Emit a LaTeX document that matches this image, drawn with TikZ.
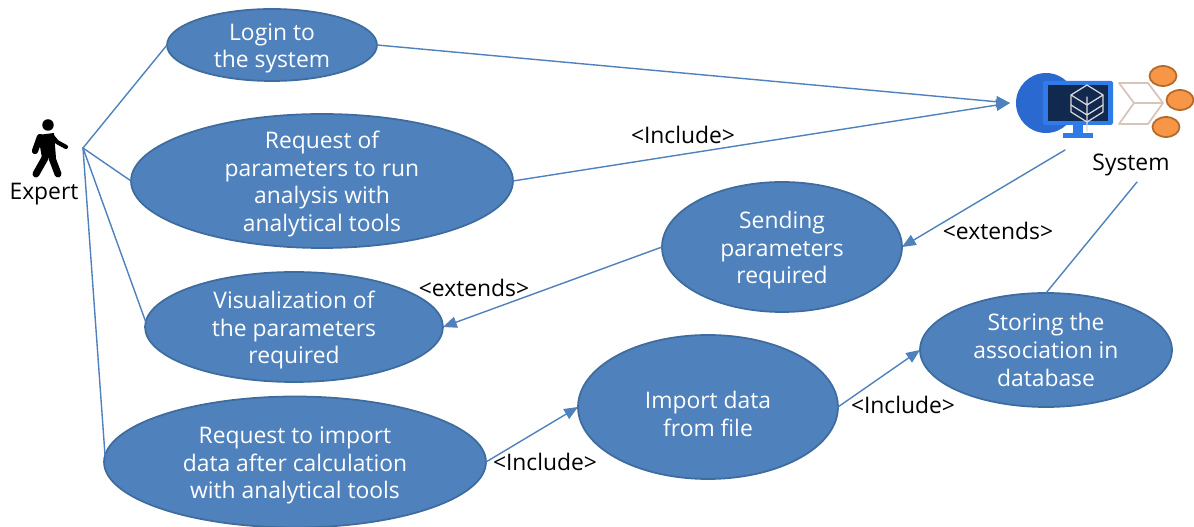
\documentclass[tikz,border=0pt]{standalone}
\usepackage{fontspec}
\setmainfont{Open Sans}
\usepackage{tikz}
\usetikzlibrary{arrows,shapes.geometric}
\definecolor{ucfill}{HTML}{4F81BD}
\definecolor{ucedge}{HTML}{3F6C9E}
\definecolor{globeblue}{HTML}{2A6AD0}
\definecolor{framblue}{HTML}{2F7BE8}
\definecolor{screenblue}{HTML}{12294F}
\definecolor{chevron}{HTML}{D8C4BA}
\definecolor{dotfill}{HTML}{F79646}
\definecolor{dotedge}{HTML}{B5692A}
\newcommand{\ucstrut}[1][13.4pt]{\rule{0pt}{#1}}
\tikzset{
  usecase/.style={ellipse,draw=ucedge,fill=ucfill,line width=1pt,text=white,align=center,inner sep=-20pt,outer sep=0pt,font=\fontsize{13}{15.7}\selectfont},
  tag/.style={text=black,inner sep=0pt,font=\fontsize{13}{15}\selectfont},
  link/.style={draw=ucfill,line width=0.8pt},
  dot/.style={ellipse,draw=dotedge,fill=dotfill,line width=1pt,inner sep=0pt,minimum width=0.54cm,minimum height=0.40cm}
}
\begin{document}
\begin{tikzpicture}[line cap=round,line join=round,>=triangle 45,x=0.02cm,y=0.02cm]
\useasboundingbox (0,0) rectangle (1194,527);
% use cases
\node[usecase,minimum width=4.2cm,minimum height=1.44cm] (login) at (272,482) {\ucstrut Login to\\the system};
\node[usecase,minimum width=7.64cm,minimum height=2.68cm] (params) at (322,346) {\ucstrut Request of\\parameters to run\\analysis with\\analytical tools};
\node[usecase,minimum width=4.8cm,minimum height=2.6cm] (sending) at (782,280) {\ucstrut Sending\\parameters\\required};
\node[usecase,minimum width=5.96cm,minimum height=2.2cm] (visual) at (294,200) {\ucstrut Visualization of\\the parameters\\required};
\node[usecase,minimum width=7.64cm,minimum height=2.62cm] (request) at (295,65) {\ucstrut Request to import\\data after calculation\\with analytical tools};
\node[usecase,minimum width=5.2cm,minimum height=2.88cm] (import) at (708,120) {\ucstrut[17.9pt]Import data\\from file};
\node[usecase,minimum width=5.04cm,minimum height=2.28cm] (storing) at (1046,177) {Storing the\\association in\\database};
% expert
\node[circle,fill=black,inner sep=0pt,minimum size=0.23cm] (head) at (48,402) {};
\fill[black] (38,392) -- (54,394) -- (56,369) -- (42,369) -- cycle;
\draw[line width=3.6pt,black] (40,390) -- (35,376);
\draw[line width=2.4pt,black] (52,391) -- (57,385) -- (66,380);
\draw[line width=4pt,black] (45,369) -- (36,353);
\draw[line width=4pt,black] (52,369) -- (58,353);
\node[tag] (expert) at (44,333) {Expert};
\coordinate (hand) at (83,379);
% system
\fill[globeblue] (1046,424) circle (30);
\fill[framblue,rounded corners=1pt] (1043,402) rectangle (1113,446);
\fill[screenblue] (1048,406) rectangle (1108,442);
\fill[framblue] (1073,402) rectangle (1083,394);
\fill[framblue] (1063,389) rectangle (1093,394);
\draw[white!85!black,line width=0.7pt] (1087,442) -- (1103,432) -- (1103,415) -- (1087,405) -- (1071,415) -- (1071,432) -- cycle;
\draw[white!85!black,line width=0.7pt] (1071,432) -- (1087,422) -- (1103,432) (1071,422) -- (1087,412) -- (1103,422) (1087,430) -- (1087,396);
\draw[chevron,line width=1pt] (1119,444) -- (1148,444) -- (1163,424) -- (1148,403) -- (1119,403) -- (1134,424) -- cycle (1134,424) -- (1163,424);
\node[dot] (dota) at (1163,451) {};
\node[dot] (dotb) at (1180,427) {};
\node[dot] (dotc) at (1166,400) {};
\node[tag] (system) at (1131,362) {System};
\coordinate (systemin) at (1010,424);
\coordinate (systemout) at (1065,377);
\coordinate (systemdown) at (1137,345);
% connectors
\draw[link] (hand) -- (login.west);
\draw[link] (hand) -- (params.west);
\draw[link] (hand) -- (visual.178);
\draw[link] (hand) -- (request.178);
\draw[link,->] (login.east) -- (systemin);
\draw[link,->] (params.east) -- (systemin);
\draw[link,->] (systemout) -- (sending.east);
\draw[link] (systemdown) -- (storing.north);
\draw[link,->] (sending.west) -- (visual.east);
\draw[link,->] (request.east) -- (import.west);
\draw[link,->] (import.east) -- (storing.west);
% labels
\node[tag] (inca) at (683,392) {<Include>};
\node[tag] (exta) at (998,296) {<extends>};
\node[tag] (extb) at (474,239) {<extends>};
\node[tag] (incb) at (545,65) {<Include>};
\node[tag] (incc) at (903,122) {<Include>};
\end{tikzpicture}
\end{document}
